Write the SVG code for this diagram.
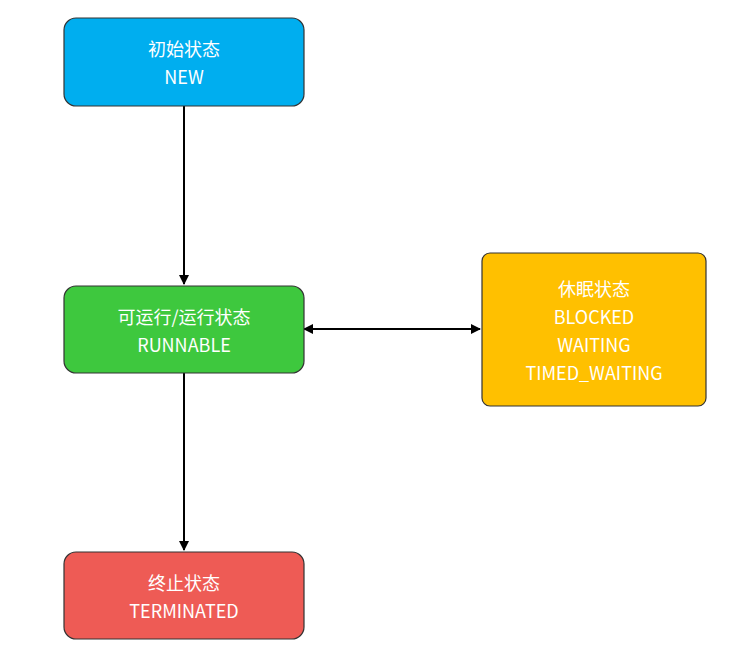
<svg xmlns="http://www.w3.org/2000/svg" width="743" height="669" viewBox="0 0 743 669">
<style>
.n{stroke:#333;stroke-width:1.2}
.t{font-family:"Noto Sans CJK SC","Noto Sans",sans-serif;font-size:18px;fill:#fff;text-anchor:middle}
.c{stroke:#000;stroke-width:2;fill:none}
</style>
<defs>
<marker id="a" viewBox="0 0 10 10" refX="9" refY="5" markerWidth="5" markerHeight="5" orient="auto-start-reverse"><path d="M0,0 L10,5 L0,10 Z" fill="#000"/></marker>
</defs>
<rect width="743" height="669" fill="#fff"/>
<g id="connectors">
<line class="c" x1="184" y1="106" x2="184" y2="284" marker-end="url(#a)"/>
<line class="c" x1="304" y1="329" x2="480" y2="329" marker-start="url(#a)" marker-end="url(#a)"/>
<line class="c" x1="184" y1="373" x2="184" y2="550" marker-end="url(#a)"/>
</g>
<g id="new"><rect class="n" x="64" y="18" width="240" height="88" rx="12" fill="#00aeef"/>
<text class="t" x="184" y="56">初始状态</text><text class="t" x="184" y="84">NEW</text></g>
<g id="runnable"><rect class="n" x="64" y="286" width="240" height="87" rx="12" fill="#3ec83e"/>
<text class="t" x="184" y="324">可运行/运行状态</text><text class="t" x="184" y="352">RUNNABLE</text></g>
<g id="blocked"><rect class="n" x="482" y="253" width="224" height="153" rx="8" fill="#ffc000"/>
<text class="t" x="594" y="296">休眠状态</text><text class="t" x="594" y="324">BLOCKED</text><text class="t" x="594" y="352">WAITING</text><text class="t" x="594" y="380">TIMED_WAITING</text></g>
<g id="terminated"><rect class="n" x="64" y="552" width="240" height="87" rx="12" fill="#ee5b55"/>
<text class="t" x="184" y="590">终止状态</text><text class="t" x="184" y="618">TERMINATED</text></g>
</svg>
